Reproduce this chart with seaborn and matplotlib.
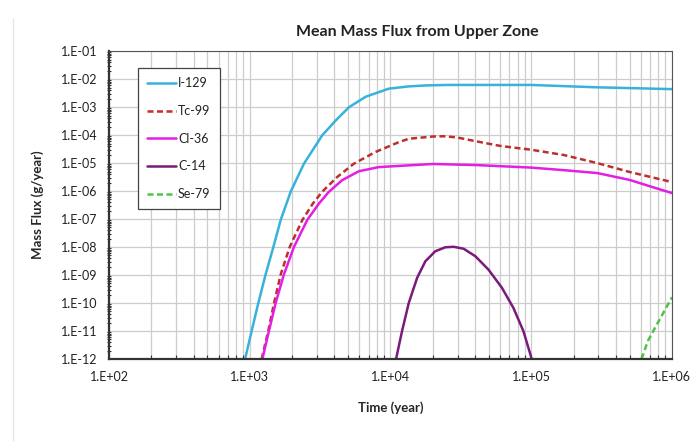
import numpy as np
import pandas as pd
import matplotlib
matplotlib.use("Agg")
import matplotlib.pyplot as plt
from matplotlib.ticker import LogLocator, FuncFormatter, NullFormatter
from matplotlib.lines import Line2D
import seaborn as sns

# ---- data ----
title = "Mean Mass Flux from Upper Zone"
xlabel = "Time (year)"
ylabel = "Mass Flux (g/year)"
nuclides = ["I-129", "Tc-99", "Cl-36", "C-14", "Se-79"]

i129_t = [927, 1033, 1151, 1297, 1472, 1660, 1954, 2427, 3273, 4074, 5058,
          6653, 9727, 13490, 17780, 25120, 100000, 295000, 1000000]
i129_f = [1e-12, 1.02e-11, 1.0e-10, 1.05e-9, 1.0e-8, 9.3e-8, 9.5e-7, 9.5e-6,
          9.8e-5, 3.3e-4, 9.8e-4, 2.34e-3, 4.57e-3, 5.5e-3, 5.95e-3, 6.2e-3,
          6.2e-3, 5.1e-3, 4.4e-3]

tc99_t = [1216, 1355, 1489, 1660, 1923, 2366, 2812, 3273, 4188, 5495, 7834,
          11460, 13490, 20000, 24000, 29500, 40700, 60300, 100000, 170000,
          295000, 501000, 1000000]
tc99_f = [1e-12, 1.02e-11, 1.0e-10, 1.05e-9, 1.0e-8, 9.3e-8, 3.6e-7, 9.5e-7,
          3.2e-6, 9.5e-6, 2.5e-5, 5.6e-5, 7.4e-5, 8.9e-5, 9.1e-5, 8.3e-5,
          6.0e-5, 4.1e-5, 3.0e-5, 1.95e-5, 1.0e-5, 4.8e-6, 2.1e-6]

cl36_t = [1230, 1371, 1528, 1750, 2061, 2564, 3105, 3656, 4539, 5957, 8260,
          13490, 20000, 40700, 100000, 170000, 295000, 501000, 692000, 1000000]
cl36_f = [1e-12, 1.02e-11, 1.0e-10, 1.05e-9, 1.0e-8, 9.3e-8, 3.6e-7, 9.5e-7,
          2.45e-6, 5.1e-6, 7.2e-6, 8.3e-6, 9.3e-6, 8.5e-6, 6.9e-6, 5.6e-6,
          4.4e-6, 2.5e-6, 1.5e-6, 8.5e-7]

c14_t = [10960, 12080, 13490, 15450, 17700, 20840, 24550, 28120, 33110,
         40090, 49770, 61940, 74820, 88100, 100900]
c14_f = [1.0e-12, 9.8e-12, 1.0e-10, 7.8e-10, 3.1e-9, 7.1e-9, 9.8e-9, 1.02e-8,
         8.7e-9, 4.7e-9, 1.55e-9, 3.5e-10, 6.6e-11, 9.8e-12, 1.0e-12]

se79_t = [608000, 676000, 776000, 891000, 1000000]
se79_f = [1e-12, 4.5e-12, 1.6e-11, 5.6e-11, 1.6e-10]

colors = {"I-129": "#36b2dc", "Tc-99": "#be2e2e", "Cl-36": "#e41ee4",
          "C-14": "#7a1a7a", "Se-79": "#4cc44c"}
dashes = {"I-129": "", "Tc-99": (2.4, 1.4), "Cl-36": "", "C-14": "",
          "Se-79": (2.4, 1.4)}

frames = []
for name, t, f in zip(nuclides,
                      [i129_t, tc99_t, cl36_t, c14_t, se79_t],
                      [i129_f, tc99_f, cl36_f, c14_f, se79_f]):
    frames.append(pd.DataFrame({"Time": t, "Flux": f, "Nuclide": name}))
df = pd.concat(frames, ignore_index=True)

# ---- style ----
sns.set_theme(style="white")
plt.rcParams["font.family"] = ["Lato", "DejaVu Sans"]
plt.rcParams["text.color"] = "#222222"

fig = plt.figure(figsize=(6.92, 4.41), dpi=100)
ax = fig.add_axes([0.1575, 0.186, 0.8135, 0.698])

sns.lineplot(data=df, x="Time", y="Flux", hue="Nuclide", style="Nuclide",
             hue_order=nuclides, style_order=nuclides, palette=colors,
             dashes=dashes, estimator=None, sort=False, linewidth=1.8,
             ax=ax, legend=False)
for ln in ax.get_lines():
    ln.set_solid_joinstyle("round")
    ln.set_dash_joinstyle("round")

ax.set_xscale("log")
ax.set_yscale("log")
ax.set_xlim(1e2, 1e6)
ax.set_ylim(1e-12, 1e-1)

fmt = FuncFormatter(lambda v, p: "1.E{:+03d}".format(int(round(np.log10(v)))))
ax.xaxis.set_major_locator(LogLocator(base=10, numticks=20))
ax.xaxis.set_minor_locator(LogLocator(base=10, subs=np.arange(2, 10), numticks=20))
ax.yaxis.set_major_locator(LogLocator(base=10, numticks=20))
ax.yaxis.set_minor_locator(LogLocator(base=10, subs=np.arange(2, 10), numticks=20))
ax.xaxis.set_major_formatter(fmt)
ax.yaxis.set_major_formatter(fmt)
ax.xaxis.set_minor_formatter(NullFormatter())
ax.yaxis.set_minor_formatter(NullFormatter())

ax.grid(True, which="major", axis="both", color="#cccccc", linewidth=0.9)
ax.grid(True, which="minor", axis="x", color="#cccccc", linewidth=0.9)
ax.set_axisbelow(True)

ax.tick_params(axis="both", which="major", direction="inout", length=5,
               width=1.0, color="#333333", labelsize=9, labelcolor="#222222",
               pad=6)
ax.tick_params(axis="x", which="minor", direction="in", length=3, width=0.8,
               color="#333333", bottom=True)
ax.tick_params(axis="y", which="minor", direction="inout", length=3, width=0.8,
               color="#333333", left=True)

for s in ["left", "bottom"]:
    ax.spines[s].set_color("#333333")
    ax.spines[s].set_linewidth(1.6)
for s in ["top", "right"]:
    ax.spines[s].set_color("#555555")
    ax.spines[s].set_linewidth(0.8)

fig.text(0.603, 0.927, title, fontsize=11.5, fontweight="bold",
         ha="center", va="center")
ax.set_xlabel(xlabel, fontsize=9.5, fontweight="bold", labelpad=13)
ax.set_ylabel(ylabel, fontsize=9.5, fontweight="bold", labelpad=12)

handles = [Line2D([0], [0], color=colors[n], lw=1.8,
                  linestyle=("-" if dashes[n] == "" else (0, dashes[n])))
           for n in nuclides]
leg = ax.legend(handles, nuclides, loc="upper left",
                bbox_to_anchor=(0.0515, 0.945), borderaxespad=0,
                fontsize=9, handlelength=2.3, handletextpad=0.15,
                labelspacing=1.25, borderpad=0.75, frameon=True,
                fancybox=False, edgecolor="#444444", framealpha=1)
leg.get_frame().set_linewidth(0.9)

fig.add_artist(Line2D([0.019, 0.019], [0.0, 0.96], color="#e6e6e6",
                      lw=1.0, transform=fig.transFigure))

fig.savefig("out.png", dpi=100)
